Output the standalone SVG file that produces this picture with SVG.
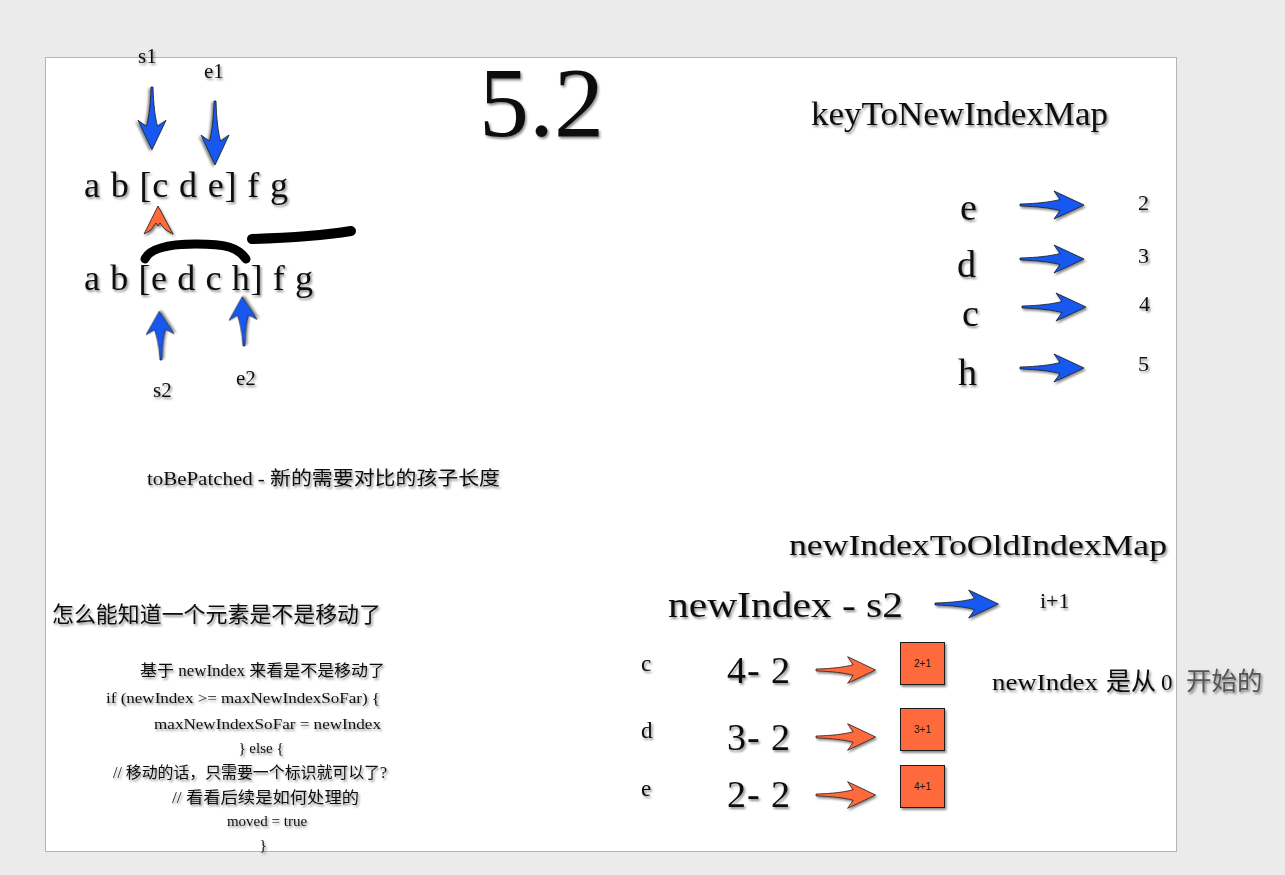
<svg xmlns="http://www.w3.org/2000/svg" xmlns:xlink="http://www.w3.org/1999/xlink" width="1285" height="875" viewBox="0 0 1285 875">
<style>
.t{font-family:"Liberation Serif","Noto Sans CJK SC",serif;fill:#111;filter:url(#sh)}
.cjk{font-family:"Liberation Serif","Noto Sans CJK SC",sans-serif;fill:#111;filter:url(#sh)}
.blue{fill:#1558f0;stroke:#1a1a1a;stroke-width:0.8;filter:url(#sh)}
.orange{fill:#ff6a3d;stroke:#1a1a1a;stroke-width:0.8;filter:url(#sh)}
.box{fill:#ff6a3d;stroke:#1a1a1a;stroke-width:1;filter:url(#sh)}
.bl{font-family:"Liberation Sans",Arial,sans-serif;font-size:10px;fill:#111}
.ink{fill:none;stroke:#000;stroke-linecap:round;stroke-linejoin:round}
.gray{fill:#555}
</style>
<defs>
<filter id="sh" x="-20%" y="-20%" width="140%" height="160%">
<feDropShadow dx="1.5" dy="2" stdDeviation="1.2" flood-color="#000" flood-opacity="0.45"/>
</filter>
<path id="arr" d="M0,-1 C18,-1.5 30,-3 40,-5.5 C38,-8.5 36,-11 34,-14 L64,0 L34,14 C36,11 38,8.5 40,5.5 C30,3 18,1.5 0,1 Z"/>
</defs>
<rect x="0" y="0" width="1285" height="875" fill="#ebebeb"/>
<rect id="page" x="45.5" y="57.5" width="1131" height="794" fill="#fff" stroke="#b4b4b4" stroke-width="1"/>

<g id="title"><text class="t" x="479" y="136" font-size="100">5.2</text></g>

<g id="old-seq">
<text class="t" x="138" y="63" font-size="21">s1</text>
<text class="t" x="204" y="78" font-size="21">e1</text>
<text class="t" x="84" y="197" font-size="36" textLength="204" lengthAdjust="spacing">a b [c d e] f g</text>
</g>
<g id="new-seq">
<text class="t" x="84" y="290" font-size="36" textLength="229" lengthAdjust="spacing">a b [e d c h] f g</text>
<text class="t" x="153" y="397" font-size="21">s2</text>
<text class="t" x="236" y="385" font-size="21">e2</text>
</g>

<g id="connectors">
<use href="#arr" class="blue" transform="translate(152,87) rotate(90) scale(0.98,1)"/>
<use href="#arr" class="blue" transform="translate(215,101) rotate(90) scale(1,1)"/>
<use href="#arr" class="blue" transform="translate(161,360) rotate(-92) scale(0.76,1)"/>
<use href="#arr" class="blue" transform="translate(244,346) rotate(-92) scale(0.77,1)"/>
<path class="orange" d="M158,206 L173,234 L166,230 Q162,226 160,223 L158,226 L156,223 Q153,227 151,230 L144,234 Z"/>
<path class="ink" stroke-width="9" d="M145,259 C150,248 170,244 196,244 C225,244 238,247 246,259"/>
<path class="ink" stroke-width="10" d="M252,239 C285,238 320,236 351,231"/>
<use href="#arr" class="blue" transform="translate(1020,205)"/>
<use href="#arr" class="blue" transform="translate(1020,259)"/>
<use href="#arr" class="blue" transform="translate(1022,307)"/>
<use href="#arr" class="blue" transform="translate(1020,368)"/>
<use href="#arr" class="blue" transform="translate(935,604) scale(0.99,1)"/>
<use href="#arr" class="orange" transform="translate(816,670) scale(0.93,0.95)"/>
<use href="#arr" class="orange" transform="translate(816,737) scale(0.93,0.95)"/>
<use href="#arr" class="orange" transform="translate(816,795) scale(0.93,0.95)"/>
</g>

<g id="patched"><text class="cjk" x="147" y="485" font-size="19" textLength="353" lengthAdjust="spacingAndGlyphs">toBePatched - 新的需要对比的孩子长度</text></g>

<g id="keymap">
<text class="t" x="811" y="125" font-size="33" textLength="297" lengthAdjust="spacingAndGlyphs">keyToNewIndexMap</text>
<text class="t" x="960" y="220" font-size="38">e</text>
<text class="t" x="957" y="277" font-size="38">d</text>
<text class="t" x="962" y="326" font-size="38">c</text>
<text class="t" x="958" y="385" font-size="38">h</text>
<text class="t" x="1138" y="210" font-size="22">2</text>
<text class="t" x="1138" y="263" font-size="22">3</text>
<text class="t" x="1139" y="311" font-size="22">4</text>
<text class="t" x="1138" y="371" font-size="22">5</text>
</g>

<g id="oldmap">
<text class="t" x="789" y="555" font-size="30" textLength="378" lengthAdjust="spacingAndGlyphs">newIndexToOldIndexMap</text>
<text class="t" x="668" y="617" font-size="36" textLength="235" lengthAdjust="spacingAndGlyphs">newIndex - s2</text>
<text class="t" x="1040" y="608" font-size="22">i+1</text>
<text class="t" x="641" y="671" font-size="23">c</text>
<text class="t" x="641" y="738" font-size="23">d</text>
<text class="t" x="641" y="796" font-size="23">e</text>
<text class="t" x="727" y="683" font-size="38" textLength="63" lengthAdjust="spacing">4- 2</text>
<text class="t" x="727" y="750" font-size="38" textLength="63" lengthAdjust="spacing">3- 2</text>
<text class="t" x="727" y="807" font-size="38" textLength="63" lengthAdjust="spacing">2- 2</text>
</g>
<g id="box1"><rect class="box" x="900.5" y="642.5" width="44" height="42"/><text class="bl" x="922.5" y="667" text-anchor="middle">2+1</text></g>
<g id="box2"><rect class="box" x="900.5" y="708.5" width="44" height="42"/><text class="bl" x="922.5" y="733" text-anchor="middle">3+1</text></g>
<g id="box3"><rect class="box" x="900.5" y="765.5" width="44" height="42"/><text class="bl" x="922.5" y="790" text-anchor="middle">4+1</text></g>

<g id="zero-note">
<text class="cjk" x="992" y="690" font-size="24" textLength="106" lengthAdjust="spacingAndGlyphs">newIndex</text>
<text class="cjk" x="1106" y="690" font-size="25">是从</text>
<text class="cjk" x="1161" y="690" font-size="23">0</text>
<text class="cjk gray" x="1186" y="690" font-size="25.5">开始的</text>
</g>

<g id="question"><text class="cjk" x="52" y="622" font-size="22" textLength="329" lengthAdjust="spacingAndGlyphs">怎么能知道一个元素是不是移动了</text></g>

<g id="code">
<text class="cjk" x="140" y="676" font-size="16" textLength="245" lengthAdjust="spacingAndGlyphs">基于 newIndex 来看是不是移动了</text>
<text class="t" x="106" y="703" font-size="15" textLength="274" lengthAdjust="spacingAndGlyphs">if (newIndex &gt;= maxNewIndexSoFar) {</text>
<text class="t" x="154" y="729" font-size="15" textLength="227" lengthAdjust="spacingAndGlyphs">maxNewIndexSoFar = newIndex</text>
<text class="t" x="261" y="753" font-size="15" text-anchor="middle">} else {</text>
<text class="cjk" x="113" y="778" font-size="16" textLength="274" lengthAdjust="spacingAndGlyphs">// 移动的话，只需要一个标识就可以了?</text>
<text class="cjk" x="172" y="803" font-size="16" textLength="187" lengthAdjust="spacingAndGlyphs">// 看看后续是如何处理的</text>
<text class="t" x="267" y="826" font-size="15" text-anchor="middle">moved = true</text>
<text class="t" x="263" y="850" font-size="15" text-anchor="middle">}</text>
</g>
</svg>
